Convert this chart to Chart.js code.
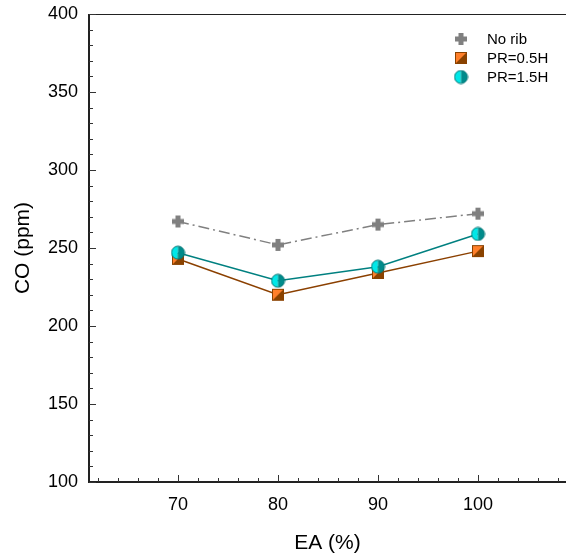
<!DOCTYPE html>
<html>
<head>
<meta charset="utf-8">
<script src="https://cdn.jsdelivr.net/npm/chart.js@4.4.1/dist/chart.umd.min.js"></script>
<style>
html,body{margin:0;padding:0;background:#fff;}
#wrap{width:566px;height:555px;position:relative;}
</style>
</head>
<body>
<div id="wrap"><canvas id="c" width="566" height="555"></canvas></div>
<script>
const categories = [70, 80, 90, 100];
const seriesNames = ['No rib', 'PR=0.5H', 'PR=1.5H'];
const noRib = [267, 252, 265, 272];
const pr05 = [243, 220, 234, 248];
const pr15 = [247, 229, 238, 259];
const xTickValues = [62,64,66,68,70,72,74,76,78,80,82,84,86,88,90,92,94,96,98,100,102,104,106,108];
const xTickLabels = [70, 80, 90, 100];
const yTickLabels = [100, 150, 200, 250, 300, 350, 400];
const yMinorStep = 10;

const FONT = 'Liberation Sans, Arial, sans-serif';

function mk(size, draw){
  const c = document.createElement('canvas');
  c.width = size; c.height = size;
  draw(c.getContext('2d'), size);
  return c;
}
const plusImg = mk(14, (g, s) => {
  g.fillStyle = '#808080';
  g.fillRect(4.5, 1, 5, 12);
  g.fillRect(1, 4.5, 12, 5);
});
const squareImg = mk(14, (g, s) => {
  g.fillStyle = '#8a4200';
  g.fillRect(1, 1, 12, 12);
  g.fillStyle = '#ff7f2a';
  g.beginPath(); g.moveTo(1,1); g.lineTo(13,1); g.lineTo(1,13); g.closePath(); g.fill();
  g.strokeStyle = '#8a4200'; g.lineWidth = 1;
  g.strokeRect(1.5, 1.5, 11, 11);
});
const circleImg = mk(15, (g, s) => {
  const cx = 7.5, cy = 7.5, r = 6.5;
  g.fillStyle = '#00e8e8';
  g.beginPath(); g.arc(cx, cy, r, Math.PI/2, Math.PI*1.5); g.closePath(); g.fill();
  g.fillStyle = '#008b8b';
  g.beginPath(); g.arc(cx, cy, r, -Math.PI/2, Math.PI/2); g.closePath(); g.fill();
  g.strokeStyle = '#007777'; g.lineWidth = 1;
  g.beginPath(); g.arc(cx, cy, r, 0, Math.PI*2); g.stroke();
});

function pts(vals){ return categories.map((x, i) => ({x: x, y: vals[i]})); }

const axesPlugin = {
  id: 'axesPlugin',
  afterDraw(chart){
    const g = chart.ctx;
    const a = chart.chartArea;
    const xs = chart.scales.x, ys = chart.scales.y;
    g.save();
    g.strokeStyle = '#222';
    g.lineWidth = 1;
    g.beginPath(); g.moveTo(a.left, a.top + 0.5); g.lineTo(a.right, a.top + 0.5); g.stroke();
    g.lineWidth = 2;
    g.beginPath(); g.moveTo(a.left, a.top); g.lineTo(a.left, a.bottom + 1); g.stroke();
    g.beginPath(); g.moveTo(a.left - 1, a.bottom); g.lineTo(a.right, a.bottom); g.stroke();
    g.lineWidth = 1;
    g.strokeStyle = '#333';
    xTickValues.forEach(v => {
      const px = Math.round(xs.getPixelForValue(v)) + 0.5;
      const len = xTickLabels.includes(v) ? 7 : 4;
      g.beginPath(); g.moveTo(px, a.bottom); g.lineTo(px, a.bottom - len); g.stroke();
    });
    for (let v = 100; v <= 400; v += yMinorStep){
      const py = Math.round(ys.getPixelForValue(v)) + 0.5;
      const len = yTickLabels.includes(v) ? 7 : 4;
      g.beginPath(); g.moveTo(a.left, py); g.lineTo(a.left + len, py); g.stroke();
    }
    const imgs = [plusImg, squareImg, circleImg];
    const rows = [39, 58, 77];
    g.font = '15px ' + FONT;
    g.fillStyle = '#000';
    g.textBaseline = 'middle';
    g.textAlign = 'left';
    seriesNames.forEach((n, i) => {
      const im = imgs[i];
      g.drawImage(im, 461 - im.width/2, rows[i] - im.height/2);
      g.fillText(n, 487, rows[i] + 1);
    });
    g.restore();
  }
};

new Chart(document.getElementById('c'), {
  type: 'line',
  data: {
    datasets: [
      {label: seriesNames[2], data: pts(pr15), borderColor: '#008080', borderWidth: 1.5,
       pointStyle: circleImg, order: 0, tension: 0, fill: false},
      {label: seriesNames[1], data: pts(pr05), borderColor: '#8b4000', borderWidth: 1.5,
       pointStyle: squareImg, order: 1, tension: 0, fill: false},
      {label: seriesNames[0], data: pts(noRib), borderColor: '#808080', borderWidth: 1.5,
       borderDash: [11, 4, 2, 4], pointStyle: plusImg, order: 2, tension: 0, fill: false}
    ]
  },
  options: {
    responsive: false,
    animation: false,
    devicePixelRatio: 1,
    layout: {autoPadding: false, padding: {top: 14, right: 0, left: 0, bottom: 0}},
    plugins: {legend: {display: false}, tooltip: {enabled: false}},
    scales: {
      x: {
        type: 'linear', min: 61.1, max: 108.8,
        grid: {display: false, drawTicks: false},
        border: {display: false},
        afterBuildTicks: (s) => { s.ticks = xTickValues.map(v => ({value: v})); },
        afterFit: (s) => { s.height = 73; s.paddingLeft = 0; s.paddingRight = 0; },
        ticks: {
          autoSkip: false, maxRotation: 0, padding: 12, color: '#000',
          font: {family: FONT, size: 18},
          callback: (v) => xTickLabels.includes(v) ? String(v) : ''
        },
        title: {display: true, text: 'EA (%)', color: '#000', font: {family: FONT, size: 21}, padding: {top: 4, bottom: -1}}
      },
      y: {
        type: 'linear', min: 100, max: 400,
        grid: {display: false, drawTicks: false},
        border: {display: false},
        afterBuildTicks: (s) => {
          const t = []; for (let v = 100; v <= 400; v += yMinorStep) t.push({value: v});
          s.ticks = t;
        },
        afterFit: (s) => { s.width = 89; s.paddingTop = 0; s.paddingBottom = 0; },
        ticks: {
          autoSkip: false, padding: 11, color: '#000',
          font: {family: FONT, size: 18},
          callback: (v) => yTickLabels.includes(v) ? String(v) : ''
        },
        title: {display: true, text: 'CO (ppm)', color: '#000', font: {family: FONT, size: 21}, padding: {top: 11, bottom: 4}}
      }
    }
  },
  plugins: [axesPlugin]
});
</script>
</body>
</html>
